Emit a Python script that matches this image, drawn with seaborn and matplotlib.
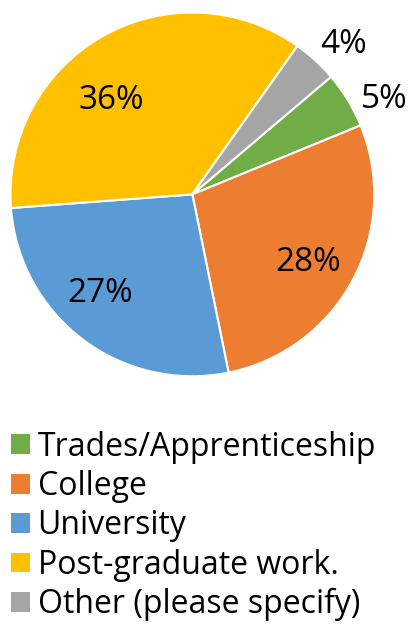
"""Pie chart of highest education level (recreated)."""

import matplotlib.pyplot as plt
import numpy as np
import seaborn as sns
from matplotlib.patches import Patch

sns.set_theme(style="white")
plt.rcParams["font.family"] = ["Open Sans", "DejaVu Sans"]
plt.rcParams["text.color"] = "black"

categories = [
    "Trades/Apprenticeship",
    "College",
    "University",
    "Post-graduate work.",
    "Other (please specify)",
]
shares = [5, 28, 27, 36, 4]
pct_labels = ["5%", "28%", "27%", "36%", "4%"]
colors = ["#70AD47", "#ED7D31", "#5B9BD5", "#FFC000", "#A5A5A5"]
# label placement: radius (fraction of pie radius) and angle nudge (deg, clockwise)
label_radius = [1.19, 0.73, 0.73, 0.70, 1.19]
label_nudge = [4, 1, 7, -10, 2]


def main():
    fig = plt.figure(figsize=(4.11, 6.25), dpi=100)
    ax = fig.add_axes([0.024, 0.398, 0.888, 0.582])

    wedges, _ = ax.pie(
        shares,
        colors=colors,
        startangle=40.3,
        counterclock=False,
        radius=1,
        wedgeprops=dict(edgecolor="white", linewidth=1.5),
    )
    for w, txt, r, nudge in zip(wedges, pct_labels, label_radius, label_nudge):
        mid = np.deg2rad((w.theta1 + w.theta2) / 2 - nudge)
        ax.text(r * np.cos(mid), r * np.sin(mid), txt, ha="center",
                va="center_baseline", fontsize=24, color="black")
    ax.set_xlim(-1, 1)
    ax.set_ylim(-1, 1)
    ax.set_aspect("equal")
    ax.axis("off")

    handles = [Patch(facecolor=c, edgecolor="none") for c in colors]
    fig.legend(
        handles, categories, loc="upper left", bbox_to_anchor=(0.027, 0.311),
        frameon=False, fontsize=23, handlelength=0.58, handleheight=0.58,
        handletextpad=0.25, labelspacing=0.2, borderpad=0, borderaxespad=0,
        labelcolor="black",
    )

    fig.savefig("out.png", dpi=100)


if __name__ == "__main__":
    main()
